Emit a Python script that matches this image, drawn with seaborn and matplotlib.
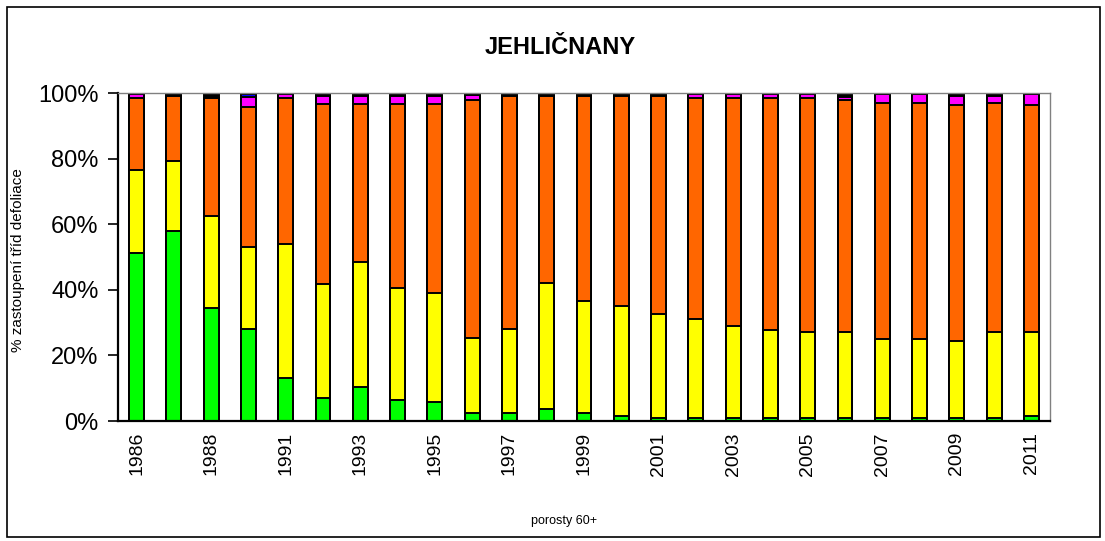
import numpy as np
import pandas as pd
import matplotlib
matplotlib.use("Agg")
import matplotlib.pyplot as plt
import seaborn as sns
from matplotlib.patches import Rectangle

# defoliation class shares (%) per survey year, conifers, stands 60+
years = ["1986", "1987", "1988", "1990", "1991", "1992", "1993", "1994", "1995",
         "1996", "1997", "1998", "1999", "2000", "2001", "2002", "2003", "2004",
         "2005", "2006", "2007", "2008", "2009", "2010", "2011"]
class_0 = [51.2, 57.8, 34.4, 27.9, 13.1, 6.9, 10.4, 6.3, 5.7, 2.4, 2.4, 3.6, 2.4,
           1.6, 1.0, 1.0, 1.0, 1.0, 1.0, 1.0, 1.0, 1.0, 1.0, 1.0, 1.6]
class_1 = [25.4, 21.5, 28.1, 25.3, 40.8, 34.9, 38.1, 34.1, 33.4, 22.8, 25.5, 38.4, 34.1,
           33.4, 31.5, 30.2, 28.0, 26.7, 26.1, 26.1, 24.1, 24.1, 23.3, 26.1, 25.5]
class_2 = [21.9, 19.9, 36.0, 42.4, 44.6, 54.8, 48.1, 56.2, 57.5, 72.8, 71.3, 57.2, 62.7,
           64.2, 66.7, 67.3, 69.5, 70.8, 71.4, 70.9, 72.0, 72.0, 72.1, 70.0, 69.3]
class_3 = [1.1, 0.0, 0.0, 3.2, 1.1, 2.6, 2.6, 2.6, 2.6, 1.5, 0.0, 0.0, 0.0,
           0.0, 0.0, 1.1, 1.1, 1.1, 1.1, 0.8, 2.7, 2.7, 2.8, 2.1, 3.4]
class_3b = [0.0, 0.0, 0.0, 0.8, 0.0, 0.0, 0.0, 0.0, 0.0, 0.0, 0.0, 0.0, 0.0,
            0.0, 0.0, 0.0, 0.0, 0.0, 0.0, 0.0, 0.0, 0.0, 0.0, 0.0, 0.0]
class_4 = [0.4, 0.8, 1.5, 0.4, 0.4, 0.8, 0.8, 0.8, 0.8, 0.5, 0.8, 0.8, 0.8,
           0.8, 0.8, 0.4, 0.4, 0.4, 0.4, 1.2, 0.2, 0.2, 0.8, 0.8, 0.2]

series = [("0", class_0, "#00FF00"), ("1", class_1, "#FFFF00"), ("2", class_2, "#FF6600"),
          ("3", class_3, "#FF00FF"), ("3b", class_3b, "#0000FF"), ("4", class_4, "#000000")]

df = pd.DataFrame({name: vals for name, vals, _ in series}, index=years)
cum = df.cumsum(axis=1)

sns.set_theme(style="white")
plt.rcParams['font.family'] = ['Liberation Sans', 'DejaVu Sans']
plt.rcParams.update({"text.color": "black", "axes.labelcolor": "black",
                     "xtick.color": "black", "ytick.color": "black"})

fig = plt.figure(figsize=(11.05, 5.41), dpi=100)
ax = fig.add_axes([118 / 1105, 120 / 541, (1050 - 118) / 1105, (421 - 93) / 541])

# draw cumulative layers from the top down so each one overlaps the next
for name, _, color in reversed(series):
    sns.barplot(x=years, y=cum[name].values, order=years, color=color, saturation=1,
                width=0.4, edgecolor="black", linewidth=1.4, errorbar=None, ax=ax)

ax.set_xlim(-0.5, len(years) - 0.5)
ax.set_ylim(0, 100)
ax.set_yticks(np.arange(0, 101, 20))
ax.set_yticklabels([f"{v}%" for v in range(0, 101, 20)], fontsize=17)
ax.set_xticks(range(len(years)))
ax.set_xticklabels([y if i % 2 == 0 else "" for i, y in enumerate(years)],
                   rotation=90, fontsize=14)
ax.set_xticks(np.arange(-0.5, len(years), 1), minor=True)
ax.tick_params(axis="x", which="major", length=0, pad=8)
ax.tick_params(axis="x", which="minor", length=6, width=1.2, color="black", direction="out")
ax.tick_params(axis="y", length=7, width=1.2, color="black", direction="out", left=True, pad=7)
ax.set_xlabel("")
ax.set_ylabel("")

for side in ["left", "bottom"]:
    ax.spines[side].set_color("black")
    ax.spines[side].set_linewidth(1.6)
for side in ["top", "right"]:
    ax.spines[side].set_color("#808080")
    ax.spines[side].set_linewidth(1.0)

fig.text(0.507, 1 - 47 / 541, "JEHLIČNANY", ha="center", va="center",
         fontsize=17, fontweight="bold")
fig.text(18 / 1105, 1 - 260 / 541, "% zastoupení tříd defoliace", rotation=90,
         ha="center", va="center", fontsize=11)
fig.text(564 / 1105, 1 - 521 / 541, "porosty 60+", ha="center", va="center", fontsize=9)

fig.patches.append(Rectangle((7 / 1105, 4 / 541), 1093 / 1105, 530 / 541,
                             transform=fig.transFigure, fill=False,
                             edgecolor="black", linewidth=1.2))

fig.savefig("out.png", dpi=100)
